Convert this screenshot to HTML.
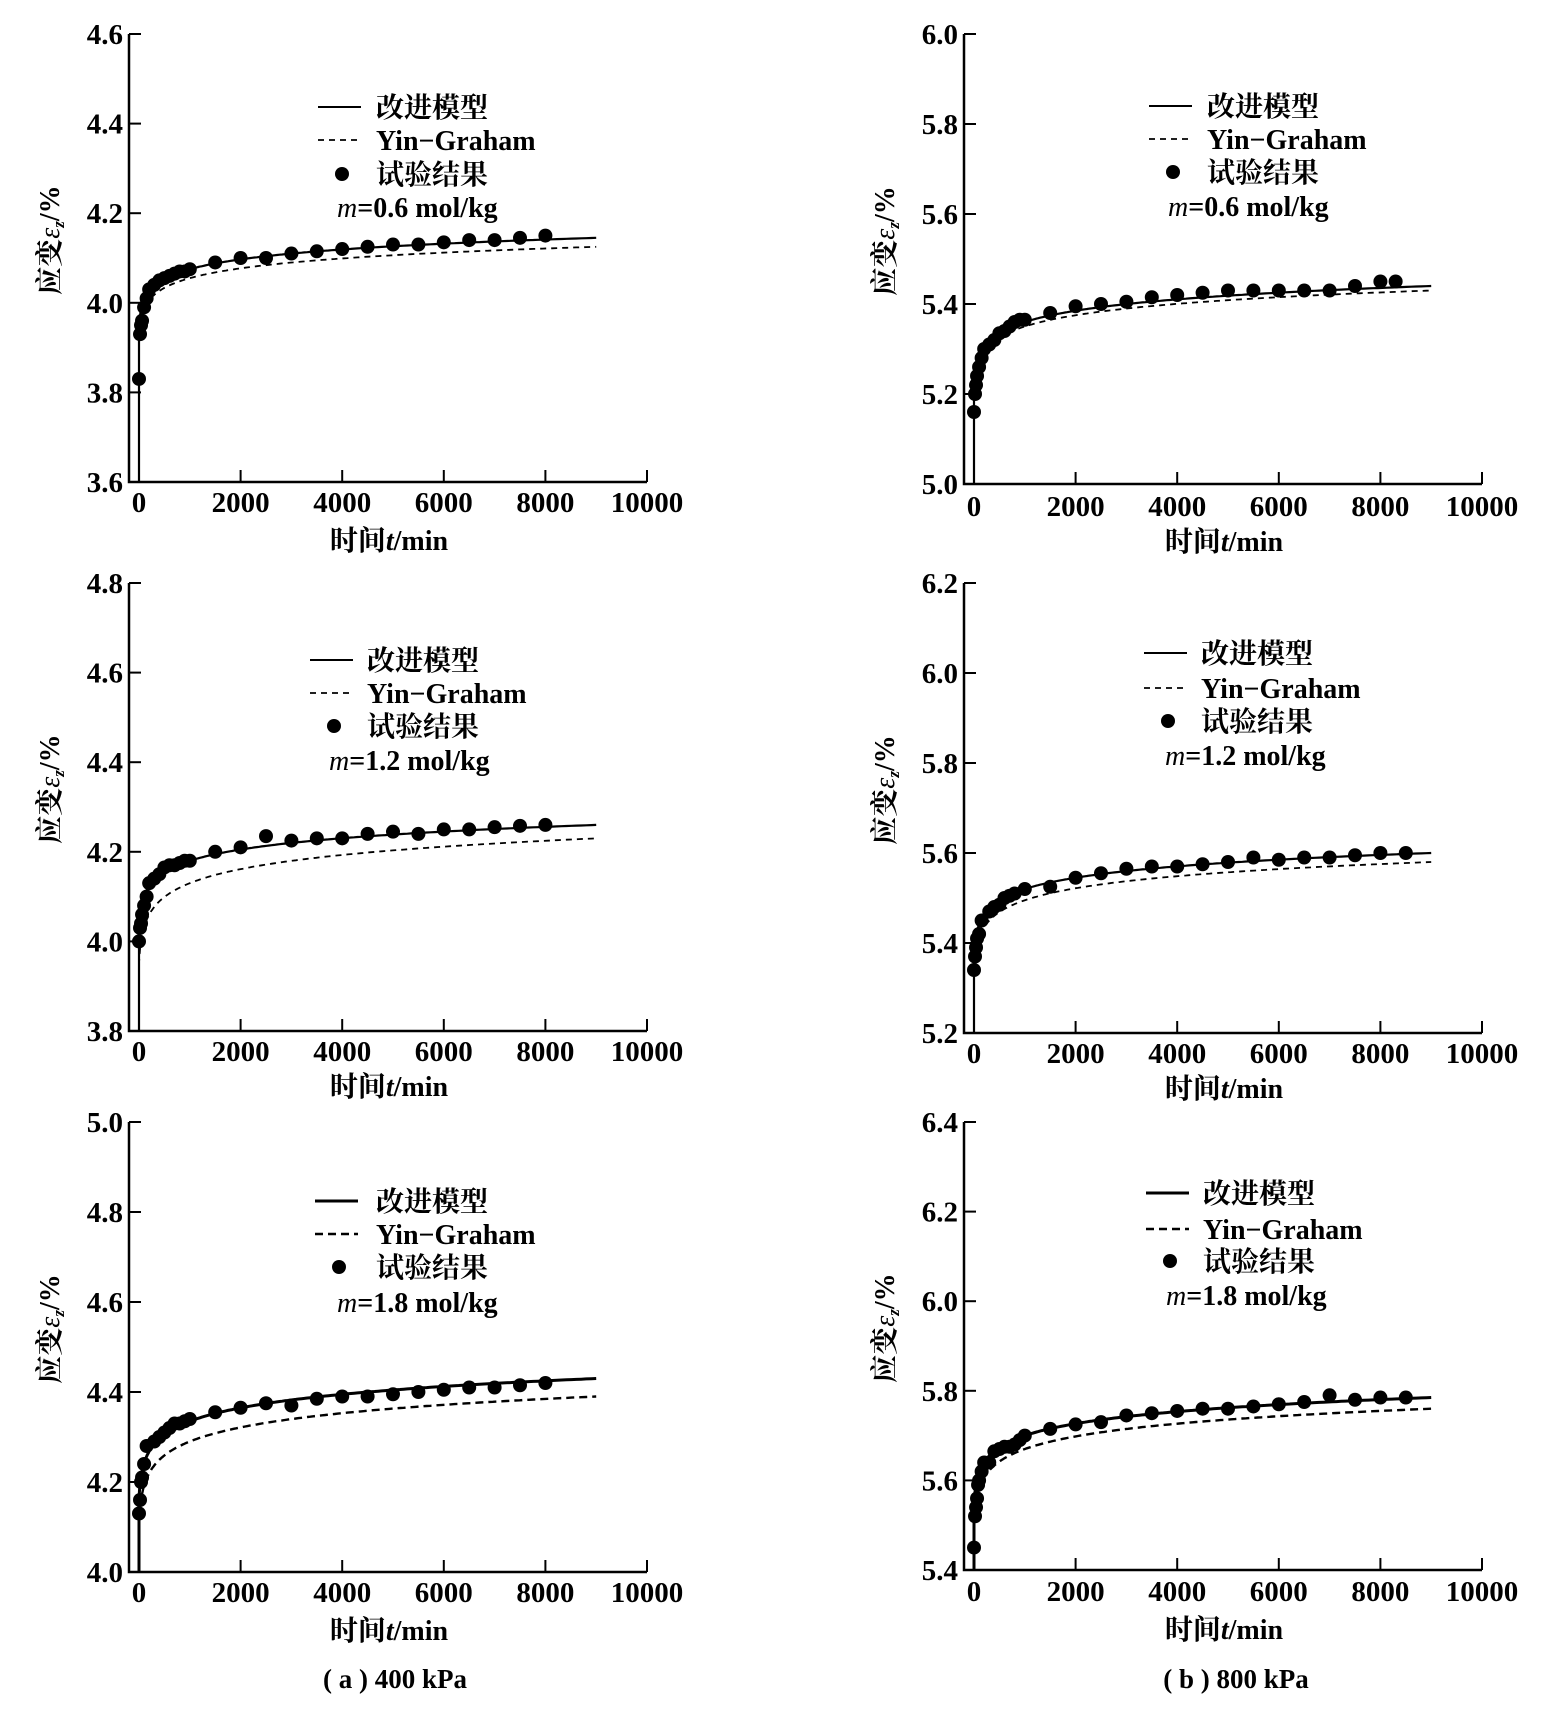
<!DOCTYPE html>
<html><head><meta charset="utf-8">
<style>
html,body{margin:0;padding:0;background:#fff;}
svg{display:block;}
text{font-family:"Liberation Serif","Noto Serif CJK SC",serif;fill:#000;font-weight:bold;}
</style></head>
<body>
<svg id="s" width="1551" height="1715" xmlns="http://www.w3.org/2000/svg"></svg>
<script>
const S=document.getElementById('s');let h='';
const panels=[
{ax:129,x0:139,x1:647,top:34,bot:482,ymin:3.6,lab:["4.6","4.4","4.2","4.0","3.8","3.6"],m:[4.075,4.145],y:[4.055,4.125],
 lg:{lx:318,tx:376,rows:[107,140,174,207],mx:337},txt:"0.6",xl:540,tl:502,
 pts:[[0,3.83],[20,3.93],[40,3.95],[60,3.96],[100,3.99],[150,4.01],[200,4.03],[300,4.04],[400,4.05],[500,4.055],[600,4.06],[700,4.065],[800,4.07],[900,4.07],[1000,4.075],[1500,4.09],[2000,4.10],[2500,4.10],[3000,4.11],[3500,4.115],[4000,4.12],[4500,4.125],[5000,4.13],[5500,4.13],[6000,4.135],[6500,4.14],[7000,4.14],[7500,4.145],[8000,4.15]]},
{ax:129,x0:139,x1:647,top:583,bot:1031,ymin:3.8,lab:["4.8","4.6","4.4","4.2","4.0","3.8"],m:[4.18,4.26],y:[4.13,4.23],
 lg:{lx:310,tx:367,rows:[660,693,726,760],mx:329},txt:"1.2",xl:1086,tl:1051,
 pts:[[0,4.0],[20,4.03],[40,4.04],[60,4.06],[100,4.08],[150,4.10],[200,4.13],[300,4.14],[400,4.15],[500,4.165],[600,4.17],[700,4.17],[800,4.175],[900,4.18],[1000,4.18],[1500,4.20],[2000,4.21],[2500,4.235],[3000,4.225],[3500,4.23],[4000,4.23],[4500,4.24],[5000,4.245],[5500,4.24],[6000,4.25],[6500,4.25],[7000,4.255],[7500,4.258],[8000,4.26]]},
{ax:129,x0:139,x1:647,top:1122,bot:1572,ymin:4.0,lab:["5.0","4.8","4.6","4.4","4.2","4.0"],m:[4.335,4.43],y:[4.29,4.39],
 lg:{lx:315,tx:376,rows:[1201,1234,1267,1302],mx:337},txt:"1.8",xl:1630,tl:1592,thick:1,
 pts:[[0,4.13],[20,4.16],[40,4.2],[60,4.21],[100,4.24],[150,4.28],[300,4.29],[400,4.30],[500,4.31],[600,4.32],[700,4.33],[800,4.33],[900,4.335],[1000,4.34],[1500,4.355],[2000,4.365],[2500,4.375],[3000,4.37],[3500,4.385],[4000,4.39],[4500,4.39],[5000,4.395],[5500,4.40],[6000,4.405],[6500,4.41],[7000,4.41],[7500,4.415],[8000,4.42]]},
{ax:964,x0:974,x1:1482,top:34,bot:484,ymin:5.0,lab:["6.0","5.8","5.6","5.4","5.2","5.0"],m:[5.36,5.44],y:[5.35,5.43],
 lg:{lx:1149,tx:1207,rows:[106,139,172,206],mx:1168},txt:"0.6",xl:541,tl:506,
 pts:[[0,5.16],[20,5.2],[40,5.22],[60,5.24],[100,5.26],[150,5.28],[200,5.30],[300,5.31],[400,5.32],[500,5.335],[600,5.34],[700,5.35],[800,5.36],[900,5.365],[1000,5.365],[1500,5.38],[2000,5.395],[2500,5.40],[3000,5.405],[3500,5.415],[4000,5.42],[4500,5.425],[5000,5.43],[5500,5.43],[6000,5.43],[6500,5.43],[7000,5.43],[7500,5.44],[8000,5.45],[8300,5.45]]},
{ax:964,x0:974,x1:1482,top:583,bot:1033,ymin:5.2,lab:["6.2","6.0","5.8","5.6","5.4","5.2"],m:[5.52,5.60],y:[5.495,5.58],
 lg:{lx:1144,tx:1201,rows:[653,688,721,755],mx:1165},txt:"1.2",xl:1088,tl:1053,
 pts:[[0,5.34],[20,5.37],[40,5.39],[60,5.41],[100,5.42],[150,5.45],[300,5.47],[400,5.48],[500,5.485],[600,5.5],[700,5.505],[800,5.51],[1000,5.52],[1500,5.525],[2000,5.545],[2500,5.555],[3000,5.565],[3500,5.57],[4000,5.57],[4500,5.575],[5000,5.58],[5500,5.59],[6000,5.585],[6500,5.59],[7000,5.59],[7500,5.595],[8000,5.6],[8500,5.6]]},
{ax:964,x0:974,x1:1482,top:1122,bot:1570,ymin:5.4,lab:["6.4","6.2","6.0","5.8","5.6","5.4"],m:[5.70,5.785],y:[5.67,5.76],
 lg:{lx:1146,tx:1203,rows:[1193,1229,1261,1295],mx:1166},txt:"1.8",xl:1629,tl:1591,thick:1,
 pts:[[0,5.45],[20,5.52],[40,5.54],[60,5.56],[80,5.59],[100,5.6],[150,5.62],[200,5.64],[300,5.64],[400,5.665],[500,5.67],[600,5.675],[700,5.675],[800,5.68],[900,5.69],[1000,5.70],[1500,5.715],[2000,5.725],[2500,5.73],[3000,5.745],[3500,5.75],[4000,5.755],[4500,5.76],[5000,5.76],[5500,5.765],[6000,5.77],[6500,5.775],[7000,5.79],[7500,5.78],[8000,5.785],[8500,5.785]]}
];
for(const p of panels){
 const X=t=>p.x0+(p.x1-p.x0)*t/10000, Y=v=>p.bot-(v-p.ymin)*(p.bot-p.top);
 h+=`<path d="M${p.ax},${p.top}V${p.bot}H${p.x1}" fill="none" stroke="#000" stroke-width="2.5"/>`;
 for(let i=0;i<6;i++){const y=p.top+i*(p.bot-p.top)/5;
  h+=`<line x1="${p.ax}" y1="${y}" x2="${p.ax+12}" y2="${y}" stroke="#000" stroke-width="2"/>`;
  h+=`<text x="${p.ax-6}" y="${y+10}" font-size="29" text-anchor="end">${p.lab[i]}</text>`;
  const t=i*2000,x=X(t);
  if(i>0)h+=`<line x1="${x}" y1="${p.bot}" x2="${x}" y2="${p.bot-12}" stroke="#000" stroke-width="2"/>`;
  h+=`<text x="${x}" y="${p.tl+10}" font-size="29" text-anchor="middle">${t}</text>`;}
 const cy=(p.top+p.bot)/2-(p.bot-p.top)*0.04;
 h+=`<text transform="translate(${p.ax-70},${cy}) rotate(-90)" font-size="28" text-anchor="middle">应变<tspan font-style="italic" font-weight="normal">ε</tspan><tspan font-size="17" font-style="italic" dy="5">z</tspan><tspan dy="-5">/%</tspan></text>`;
 h+=`<text x="${(p.x0+p.x1)/2-4}" y="${p.xl+10}" font-size="28" text-anchor="middle">时间<tspan font-style="italic">t</tspan>/min</text>`;
 const tau=20;
 function curve(E){const L1=Math.log(1+1000/tau),L9=Math.log(1+9000/tau);const b=(E[1]-E[0])/(L9-L1),a=E[1]-b*L9;
  let d=`M${X(0)},${p.bot}L${X(0)},${Y(a)}`;
  for(let k=1;k<=200;k++){const t=9000*Math.pow(k/200,2.2);d+=`L${X(t).toFixed(1)},${Y(a+b*Math.log(1+t/tau)).toFixed(1)}`;}return d;}
 h+=`<path d="${curve(p.y)}" fill="none" stroke="#000" stroke-width="${p.thick?2.4:1.8}" stroke-dasharray="${p.thick?'8,5':'6,5'}"/>`;
 h+=`<path d="${curve(p.m)}" fill="none" stroke="#000" stroke-width="${p.thick?3:2.2}"/>`;
 for(const q of p.pts)h+=`<circle cx="${X(q[0])}" cy="${Y(q[1])}" r="7" fill="#000"/>`;
 const g=p.lg,r=g.rows;
 h+=`<line x1="${g.lx}" y1="${r[0]}" x2="${g.lx+43}" y2="${r[0]}" stroke="#000" stroke-width="${p.thick?3:2}"/>`;
 h+=`<line x1="${g.lx}" y1="${r[1]}" x2="${g.lx+43}" y2="${r[1]}" stroke="#000" stroke-width="${p.thick?2.6:1.8}" stroke-dasharray="${p.thick?'8,5':'6,5'}"/>`;
 h+=`<circle cx="${g.lx+24}" cy="${r[2]}" r="7" fill="#000"/>`;
 h+=`<text x="${g.tx}" y="${r[0]+10}" font-size="28">改进模型</text>`;
 h+=`<text x="${g.tx}" y="${r[1]+10}" font-size="28">Yin−Graham</text>`;
 h+=`<text x="${g.tx}" y="${r[2]+10}" font-size="28">试验结果</text>`;
 h+=`<text x="${g.mx}" y="${r[3]+10}" font-size="28"><tspan font-style="italic" font-weight="normal">m</tspan>=${p.txt} mol/kg</text>`;
}
h+=`<text x="395" y="1688" font-size="27" text-anchor="middle">( a ) 400 kPa</text>`;
h+=`<text x="1236" y="1688" font-size="27" text-anchor="middle">( b ) 800 kPa</text>`;
S.innerHTML=h;
</script>
</body></html>
